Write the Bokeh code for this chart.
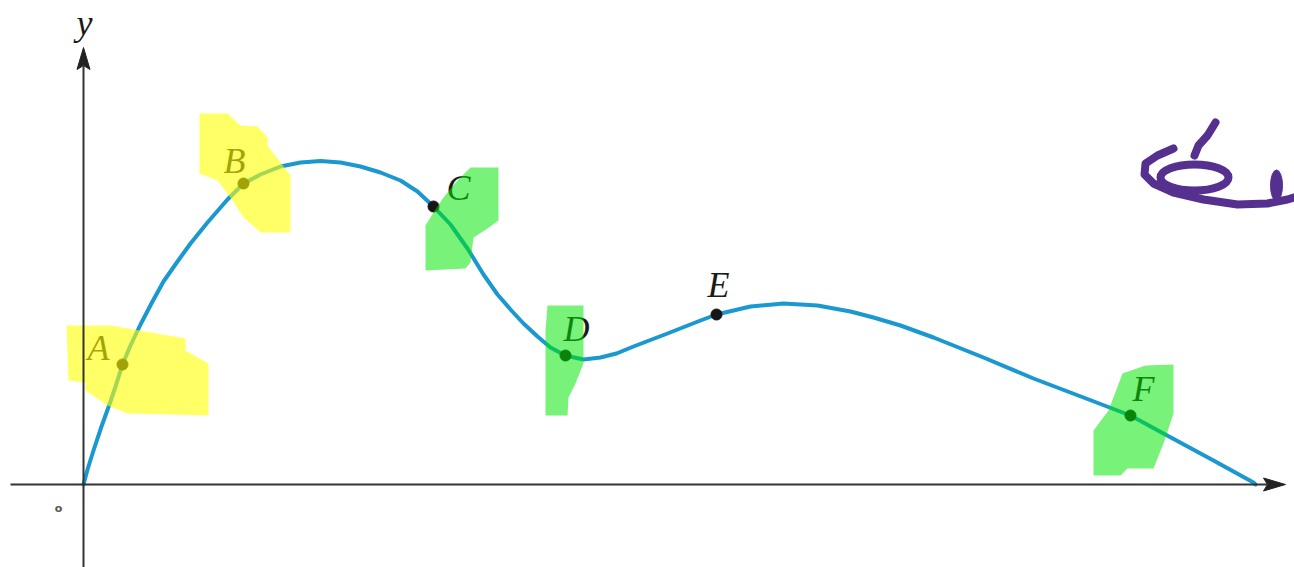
from bokeh.plotting import figure
from bokeh.models import Range1d, LinearAxis, FixedTicker
from bokeh.core.properties import value
from bokeh.embed import file_html
from bokeh.resources import INLINE

# ---- curve samples (data units) ----
curve_x = [0.00, 0.04, 0.10, 0.18, 0.27, 0.33, 0.39, 0.47, 0.57, 0.69, 0.80, 0.94, 1.07, 1.24,
           1.44, 1.60, 1.77, 1.97, 2.17, 2.37, 2.57, 2.77, 2.97, 3.17, 3.34, 3.50, 3.67, 3.84,
           4.00, 4.14, 4.27, 4.40, 4.54, 4.67, 4.82, 5.00, 5.17, 5.33, 5.50, 5.84, 6.17, 6.33,
           6.67, 7.00, 7.34, 7.67, 7.90, 8.17, 8.50, 9.00, 9.50, 10.00, 10.47, 10.80, 11.30, 11.70, 11.72]
curve_y = [0.00, 0.15, 0.34, 0.58, 0.83, 1.01, 1.20, 1.39, 1.60, 1.83, 2.03, 2.23, 2.41, 2.62,
           2.85, 3.01, 3.10, 3.18, 3.22, 3.235, 3.22, 3.18, 3.12, 3.04, 2.93, 2.78, 2.60, 2.36,
           2.10, 1.90, 1.75, 1.61, 1.48, 1.37, 1.29, 1.25, 1.27, 1.31, 1.38, 1.51, 1.64, 1.70,
           1.78, 1.81, 1.79, 1.73, 1.67, 1.59, 1.47, 1.27, 1.06, 0.87, 0.69, 0.51, 0.24, 0.02, 0.00]

# ---- labelled points ----
point_names = ["A", "B", "C", "D", "E", "F"]
point_x = [0.39, 1.60, 3.50, 4.82, 6.33, 10.47]
point_y = [1.20, 3.01, 2.78, 1.29, 1.70, 0.69]
label_x = [0.15, 1.51, 3.75, 4.93, 6.35, 10.60]
label_y = [1.37, 3.24, 2.97, 1.56, 2.00, 0.96]

# ---- highlighter marks ----
yellow_xs = [[-0.17, 0.27, 1.02, 1.02, 1.25, 1.25, 0.44, 0.24, 0.02, 0.02, -0.15],
             [1.16, 1.44, 1.57, 1.74, 1.84, 1.84, 2.07, 2.07, 1.77, 1.60, 1.47, 1.34, 1.16]]
yellow_ys = [[1.59, 1.59, 1.46, 1.34, 1.21, 0.69, 0.71, 0.79, 0.94, 1.02, 1.04],
             [3.71, 3.71, 3.59, 3.58, 3.47, 3.39, 3.09, 2.52, 2.52, 2.67, 2.87, 3.04, 3.11]]
green_xs = [[3.87, 4.15, 4.15, 4.04, 3.90, 3.87, 3.82, 3.42, 3.42, 3.50, 3.60, 3.74],
            [4.64, 5.00, 5.00, 4.92, 4.85, 4.84, 4.62, 4.62],
            [10.39, 10.62, 10.90, 10.90, 10.80, 10.70, 10.44, 10.37, 10.10, 10.10, 10.25]]
green_ys = [[3.17, 3.17, 2.64, 2.56, 2.47, 2.22, 2.16, 2.14, 2.59, 2.72, 2.87, 3.04],
            [1.79, 1.79, 1.21, 1.01, 0.87, 0.69, 0.69, 1.54],
            [1.11, 1.19, 1.20, 0.71, 0.41, 0.16, 0.16, 0.09, 0.09, 0.54, 0.74]]

# ---- purple scribble ----
scribble_xs = [[11.32, 11.24, 11.15, 11.11],
               [10.90, 10.74, 10.62, 10.61, 10.70, 10.90, 11.20, 11.54, 11.84, 12.04, 12.14]]
scribble_ys = [[3.62, 3.49, 3.39, 3.29],
               [3.36, 3.29, 3.21, 3.10, 3.01, 2.92, 2.85, 2.80, 2.81, 2.85, 2.88]]
loop_x, loop_y, loop_w, loop_h = [11.11], [3.07], [0.68], [0.26]
blob_x, blob_y, blob_w, blob_h = [11.93], [2.99], [0.12], [0.31]

# ---- axes ----
x_bounds = (-0.73, 11.85)
y_bounds = (-0.83, 4.20)
arrow_xs = [[0.0, -0.065, 0.0, 0.065], [12.02, 11.80, 11.84, 11.80]]
arrow_ys = [[4.37, 4.15, 4.19, 4.15], [0.0, 0.065, 0.0, -0.065]]

p = figure(width=1294, height=567, x_range=Range1d(-0.83, 12.11), y_range=Range1d(-0.83, 4.84),
           output_backend="svg", toolbar_location=None, x_axis_location=None, y_axis_location=None,
           min_border=0, outline_line_color=None)
p.grid.visible = False

for loc, bounds in (("below", x_bounds), ("left", y_bounds)):
    ax = LinearAxis(fixed_location=0, bounds=bounds, ticker=FixedTicker(ticks=[]),
                    axis_line_color="#333333", axis_line_width=2,
                    major_tick_line_color=None, minor_tick_line_color=None,
                    major_label_text_font_size="0px")
    p.add_layout(ax, loc)

p.patches(arrow_xs, arrow_ys, fill_color="#222222", line_color="#222222")

p.line(curve_x, curve_y, line_color="#1b98d0", line_width=4, line_cap="round", line_join="round")
p.scatter(point_x, point_y, size=11, fill_color="#151515", line_color="#151515")

serif = value("Liberation Serif")
p.text(label_x, label_y, text=point_names, text_font=serif, text_font_style="italic",
       text_font_size="36px", text_align="center", text_baseline="middle", text_color="#1a1a1a")
p.text([0.01], [4.62], text=["y"], text_font=serif, text_font_style="italic",
       text_font_size="36px", text_align="center", text_baseline="middle", text_color="#1a1a1a")
p.text([-0.25], [-0.24], text=["o"], text_font=value("DejaVu Sans"), text_font_style="bold",
       text_font_size="11px", text_align="center", text_baseline="middle", text_color="#555555")

p.patches(yellow_xs, yellow_ys, fill_color="#ffff00", fill_alpha=0.6, line_color=None)
p.patches(green_xs, green_ys, fill_color="#00e600", fill_alpha=0.53, line_color=None)

purple = "#56308f"
p.multi_line(scribble_xs, scribble_ys, line_color=purple, line_width=8, line_cap="round",
             line_join="round")
p.ellipse(loop_x, loop_y, width=loop_w, height=loop_h, fill_color=None, line_color=purple,
          line_width=8)
p.ellipse(blob_x, blob_y, width=blob_w, height=blob_h, fill_color=purple, line_color=purple)

open("out.html", "w").write(file_html(p, INLINE))
